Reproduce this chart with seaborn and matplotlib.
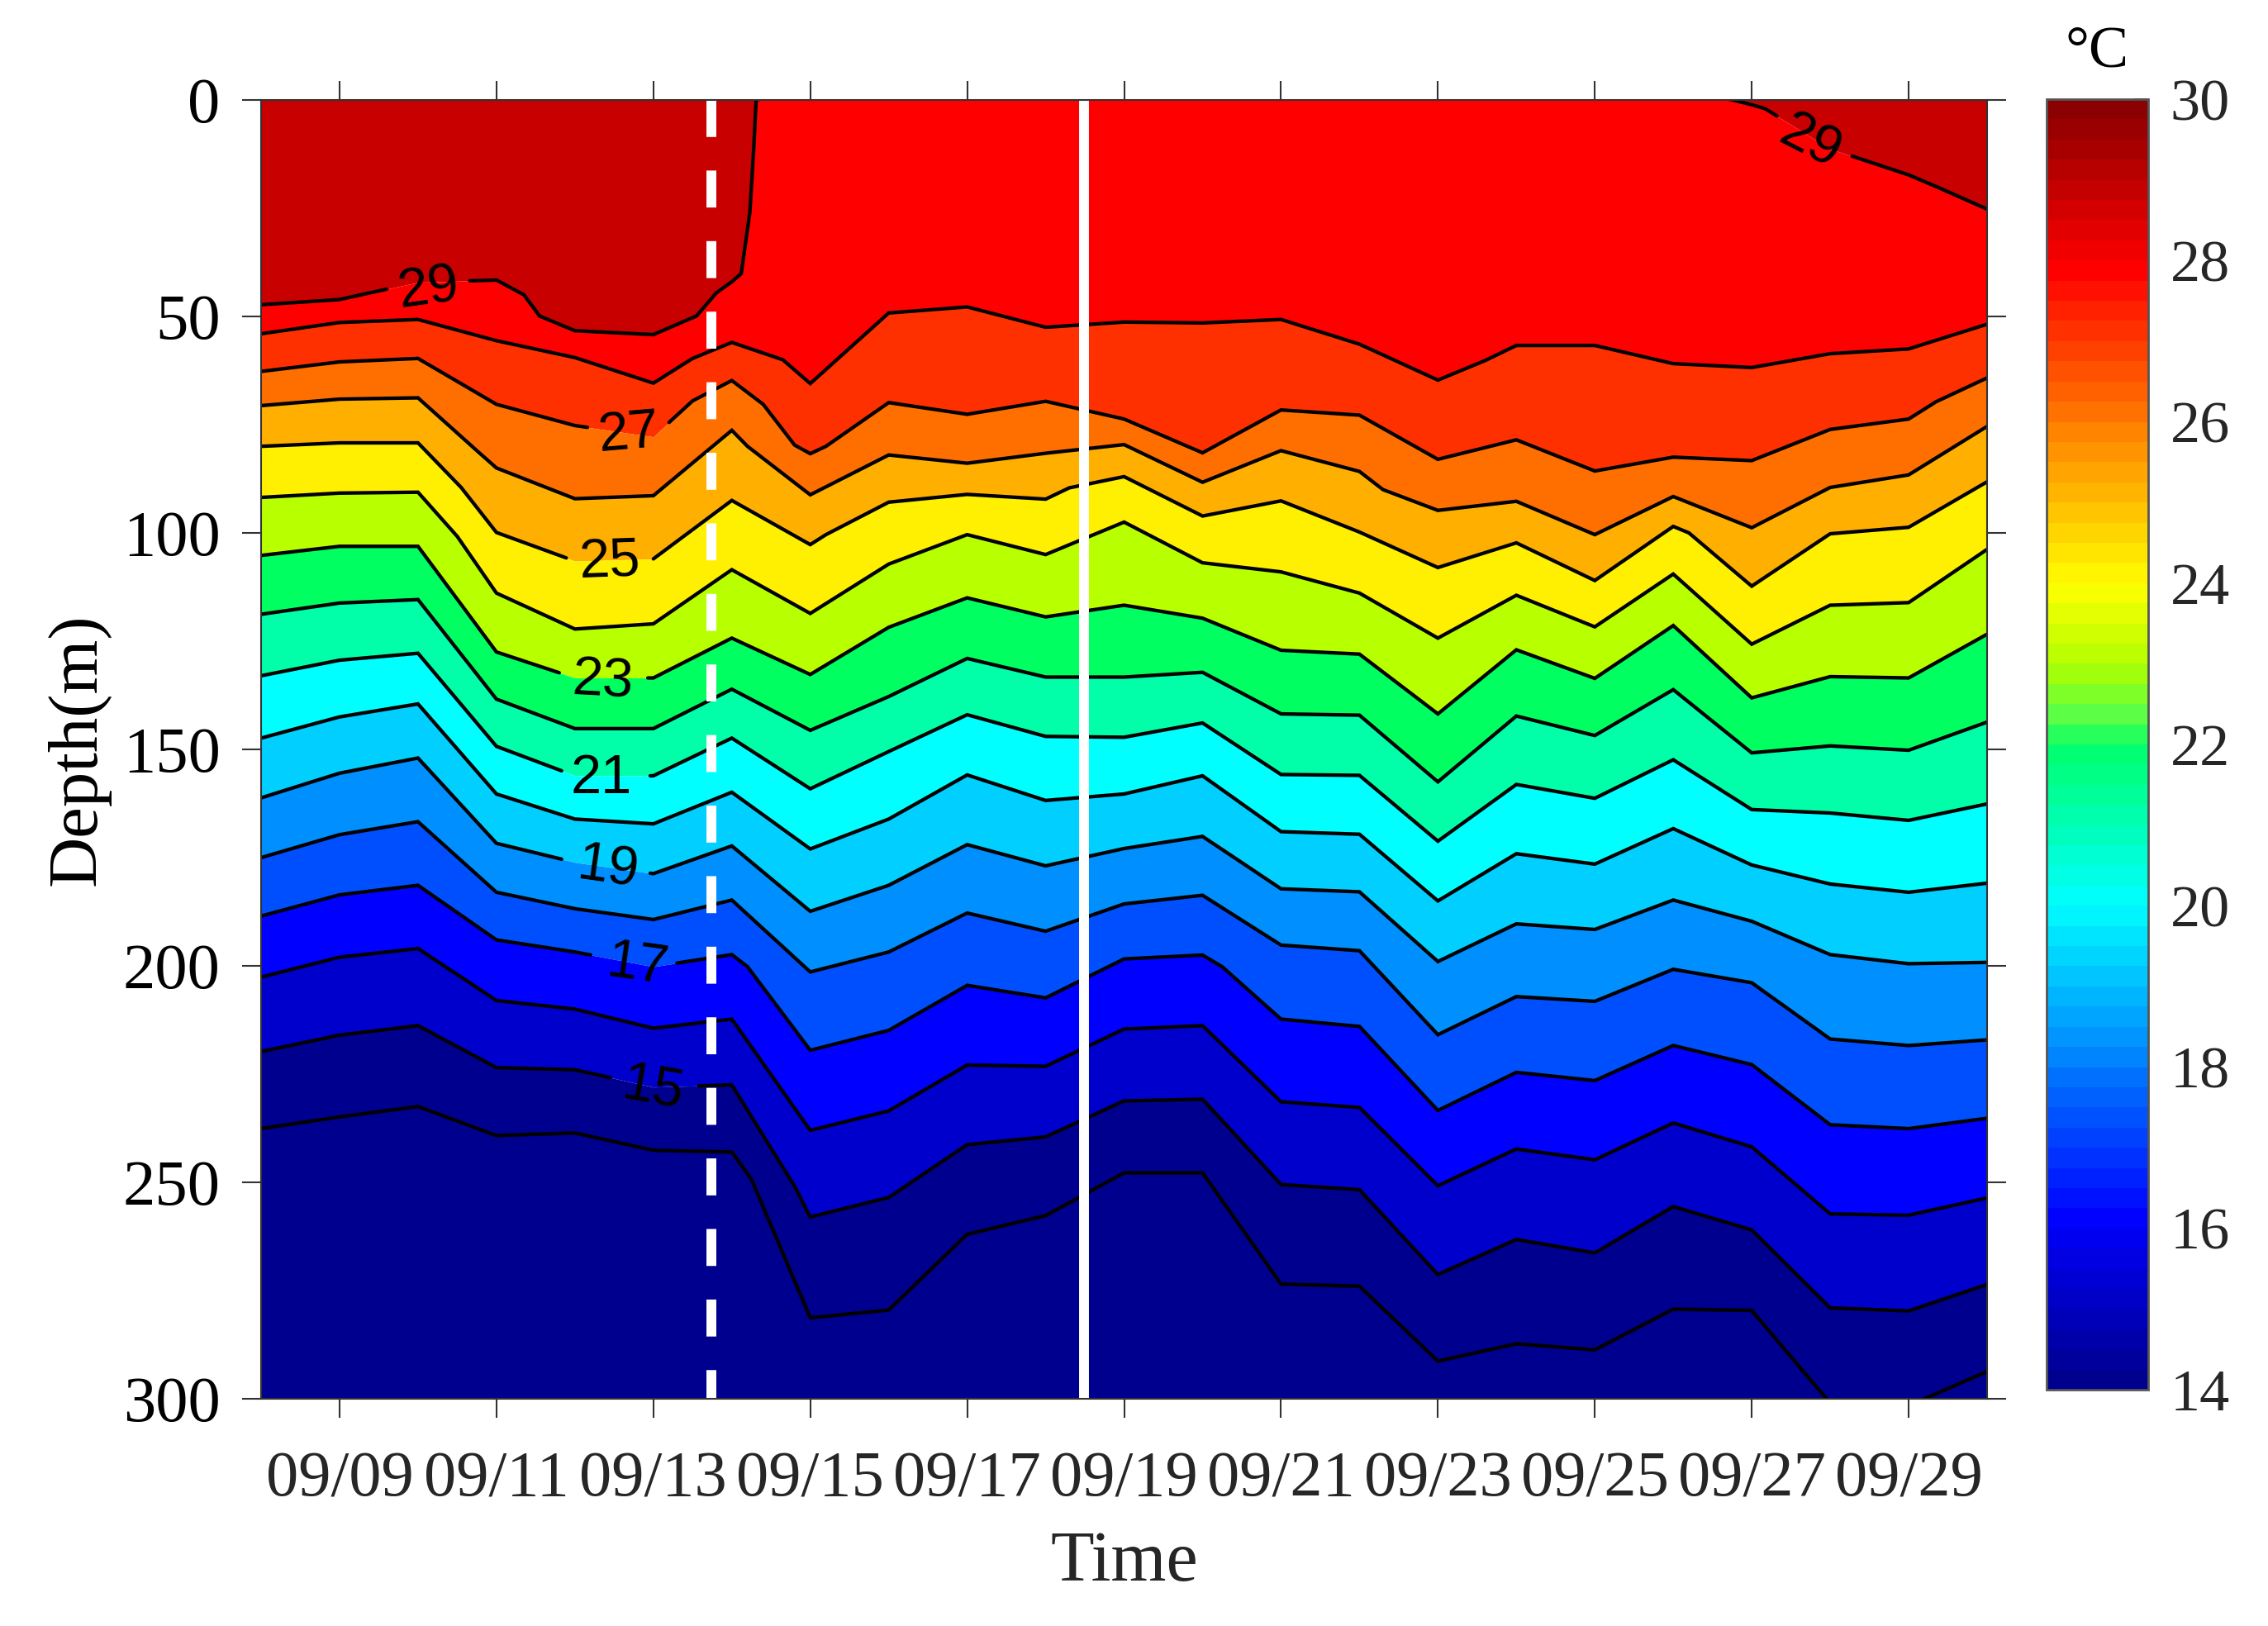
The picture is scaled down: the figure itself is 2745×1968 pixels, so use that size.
import numpy as np
import matplotlib
matplotlib.use('Agg')
import matplotlib.pyplot as plt
import seaborn as sns
from matplotlib.cm import ScalarMappable
from matplotlib.colors import LinearSegmentedColormap, ListedColormap, Normalize

# Depth of each isotherm (m) on each day of September
days = list(range(8, 31))
iso_29 = [47.3, 46.1, 42.1, 41.6, 53.3, 54.2, 42, -3, -3, -3, -3, -3, -3, -3, -3, -3, -3, -3, -3, 1.1, 11.3, 17.3, 25.2]
iso_28 = [54, 51.4, 50.7, 55.6, 59.5, 65.4, 56, 65.5, 49.2, 47.8, 52.5, 51.3, 51.5, 50.7, 56.4, 64.7, 56.7, 56.7, 60.9, 61.8, 58.6, 57.5, 51.8]
iso_27 = [62.7, 60.5, 59.7, 70.3, 75.2, 77.8, 64.8, 81.7, 69.9, 72.6, 69.6, 73.7, 81.5, 71.6, 72.8, 83, 78.5, 85.7, 82.5, 83.3, 76.1, 73.7, 64.2]
iso_26 = [70.6, 69.1, 68.8, 85, 92.1, 91.4, 76.3, 91.2, 82, 83.9, 81.6, 79.6, 88.3, 81, 85.8, 94.8, 92.7, 100.4, 91.6, 98.8, 89.5, 86.6, 75.4]
iso_25 = [80, 79.2, 79.2, 99.9, 106.5, 106, 92.5, 102.7, 92.9, 91.1, 92.2, 87, 96.1, 92.6, 99.8, 108, 102.3, 111, 98.5, 112.3, 100.2, 98.7, 88.2]
iso_24 = [91.8, 90.8, 90.6, 113.9, 122.2, 121, 108.5, 118.6, 107.2, 100.4, 105, 97.5, 106.9, 109, 113.9, 124.3, 114.4, 121.7, 109.5, 125.7, 116.7, 116.1, 103.8]
iso_23 = [105.2, 103.1, 103.1, 127.5, 133.5, 133.5, 124.3, 132.7, 121.8, 115, 119.4, 116.7, 119.7, 127.1, 128, 141.8, 127, 133.6, 121.4, 138.1, 133.2, 133.5, 123.4]
iso_22 = [118.8, 116.2, 115.4, 138.4, 145.2, 145.2, 136.1, 145.6, 137.8, 129, 133.3, 133.3, 132.2, 141.8, 142.1, 157.5, 142.3, 146.8, 136.2, 150.8, 149.2, 150.2, 143.7]
iso_21 = [133, 129.4, 127.8, 149.3, 156.1, 156.1, 147.4, 159.1, 150.5, 142, 147, 147.2, 143.9, 155.8, 156, 171.2, 158.1, 161.3, 152.4, 163.9, 164.7, 166.4, 162.6]
iso_20 = [147.4, 142.5, 139.5, 160.3, 166.1, 167.2, 159.9, 173, 166.1, 155.9, 161.8, 160.3, 156.1, 169, 169.6, 185, 174.1, 176.5, 168.3, 176.7, 181.1, 183, 180.9]
iso_19 = [161.2, 155.5, 152, 171.7, 176.1, 178.7, 172.3, 187.4, 181.4, 172, 176.9, 172.9, 170.1, 182.2, 182.9, 199, 190.3, 191.6, 184.8, 189.7, 197.4, 199.5, 199.2]
iso_18 = [175, 169.7, 166.7, 183, 186.8, 189.3, 184.8, 201.4, 196.8, 187.8, 192, 185.7, 183.7, 195.2, 196.5, 215.9, 207.1, 208.2, 200.8, 203.9, 216.9, 218.4, 217.1]
iso_17 = [188.5, 183.6, 181.4, 194, 196.8, 200.2, 197.4, 219.5, 214.9, 204.5, 207.4, 198.4, 197.5, 212.3, 214, 233.4, 224.6, 226.5, 218.4, 222.8, 236.7, 237.6, 235.2]
iso_16 = [202.6, 198, 196, 208, 210, 214.4, 212.3, 238, 233.5, 222.9, 223.2, 214.6, 213.8, 231.4, 232.7, 250.8, 242.3, 244.8, 236.3, 241.8, 257.3, 257.6, 253.6]
iso_15 = [219.8, 216, 213.8, 223.5, 224, 228, 227.5, 258, 253.5, 241.3, 239.5, 231.2, 230.8, 250.5, 251.7, 271.3, 263.2, 266.3, 255.6, 261, 279, 279.7, 273.6]
iso_14 = [237.6, 234.9, 232.5, 239.2, 238.6, 242.6, 243, 281.3, 279.5, 262, 257.7, 247.8, 247.8, 273.5, 274, 291.3, 287.3, 288.7, 279.3, 279.6, 301, 301.6, 293.7]

levels = [29, 28, 27, 26, 25, 24, 23, 22, 21, 20, 19, 18, 17, 16, 15, 14]
isotherms = [iso_29, iso_28, iso_27, iso_26, iso_25, iso_24, iso_23, iso_22,
             iso_21, iso_20, iso_19, iso_18, iso_17, iso_16, iso_15, iso_14]
band_colors = ['#C80000', '#FF0000', '#FF3000', '#FF6F00', '#FFAF00', '#FFEF00', '#B8FF00', '#00FF60',
               '#00FFA8', '#00FFFF', '#00CFFF', '#008FFF', '#004FFF', '#0000FF', '#0000CC', '#00008F']

# Bends of the contours between two days
extra_kinks = {
    29: [(11.35, 45), (11.55, 49.9), (13.55, 49.9), (13.8, 44.6), (14.12, 40.1),
         (14.23, 26), (14.28, 11), (14.31, 0), (26.76, 0), (27.17, 2), (29.35, 20)],
    28: [(13.5, 59.7), (14.65, 60), (23.6, 60.2)],
    27: [(13.5, 69.5), (14.4, 70.3), (14.8, 79.7), (15.2, 80), (29.35, 69.7)],
    26: [(10.75, 81), (14.2, 80), (22.3, 90)],
    25: [(10.55, 89.5), (15.2, 100.4), (18.3, 89.6), (26.2, 100)],
    24: [(10.5, 100.8)],
    17: [(14.2, 200.2), (20.25, 200.2)],
    15: [(14.8, 250.9)],
    14: [(14.25, 249.3), (18.85, 249.3)],
}

# Contour labels: level, day, depth, rotation, gap in the line
contour_labels = [
    (29, 10.14, 43.8, 8, 9.6, 10.66),
    (27, 12.69, 77.2, 5, 12.16, 13.2),
    (25, 12.45, 107, 2, 11.89, 13.0),
    (23, 12.36, 134.5, -3, 11.8, 12.93),
    (21, 12.34, 156.8, 0, 11.83, 12.96),
    (19, 12.42, 177.7, -8, 11.83, 12.96),
    (17, 12.8, 200, -8, 12.2, 13.3),
    (15, 13.0, 228.5, -10, 12.45, 13.58),
    (29, 27.74, 10, -27, 27.32, 28.28),
]

# Event markers
dashed_day = 13.74
solid_day = 18.49

tick_days = list(range(9, 30, 2))
tick_labels = ['09/%02d' % d for d in tick_days]
depth_ticks = [0, 50, 100, 150, 200, 250, 300]
cbar_ticks = list(range(14, 31, 2))
cmap_stops = [(0, '#00008F'), (0.125, '#0000FF'), (0.375, '#00FFFF'), (0.5, '#00FF66'),
              (0.52, '#50FF50'), (0.5625, '#AEFF00'), (0.625, '#FFFF00'), (0.875, '#FF0000'),
              (1, '#8B0000')]

W, H = 2745, 1968
sns.set_style('ticks')
plt.rcParams['font.family'] = ['Liberation Serif', 'DejaVu Serif']
plt.rcParams['lines.solid_joinstyle'] = 'miter'

cmap = LinearSegmentedColormap.from_list('jet_like', cmap_stops, N=256)
bar_cmap = ListedColormap(cmap(np.linspace(0, 1, 64)))
norm = Normalize(14, 30)

fig = plt.figure(figsize=(W / 100, H / 100), dpi=100)
ax = fig.add_axes([316 / W, 1 - 1693 / H, (2405 - 316) / W, (1693 - 121) / H])
cax = fig.add_axes([2477 / W, 1 - 1682 / H, (2600 - 2477) / W, (1682 - 120) / H])


def full_line(level, values):
    pts = dict(zip(days, values))
    pts.update(extra_kinks.get(level, []))
    xs = sorted(pts)
    return np.array(xs, dtype=float), np.array([pts[k] for k in xs], dtype=float)


lines = {lev: full_line(lev, vals) for lev, vals in zip(levels, isotherms)}
all_x = np.unique(np.concatenate([v[0] for v in lines.values()]))

# Filled bands
upper = np.full_like(all_x, -10.0)
for lev, col in zip(levels, band_colors):
    lower = np.interp(all_x, *lines[lev])
    ax.fill_between(all_x, upper, lower, color=col, lw=0)
    upper = lower
ax.fill_between(all_x, upper, np.full_like(all_x, 310.0), color=band_colors[-1], lw=0)

# Isotherms, broken where a label sits
for lev in levels:
    xs, ys = lines[lev]
    gaps = [(g[4], g[5]) for g in contour_labels if g[0] == lev]
    edges = [(xs[0], xs[-1])]
    if gaps:
        edges = []
        start = xs[0]
        for g0, g1 in sorted(gaps):
            edges.append((start, g0))
            start = g1
        edges.append((start, xs[-1]))
    for x0, x1 in edges:
        inner = xs[(xs > x0) & (xs < x1)]
        px = np.concatenate([[x0], inner, [x1]])
        sns.lineplot(x=px, y=np.interp(px, xs, ys), color='black', lw=3.1, sort=False,
                     estimator=None, legend=False, ax=ax)

for lev, x, y, rot, g0, g1 in contour_labels:
    ax.text(x, y, str(lev), family='Liberation Sans', fontsize=48, color='black', rotation=rot,
            ha='center', va='center', rotation_mode='anchor', zorder=4)

ax.plot([dashed_day, dashed_day], [0, 300], color='white', lw=8.6, ls=(0, (3.75, 3.4)),
        dash_capstyle='butt', zorder=5)
ax.plot([solid_day, solid_day], [0, 300], color='white', lw=8.6, zorder=5)

ax.set_xlim(8, 30)
ax.set_ylim(300, 0)
ax.set_xticks(tick_days)
ax.set_xticklabels(tick_labels)
ax.set_yticks(depth_ticks)
ax.tick_params(axis='x', direction='out', length=16.5, width=1.5, color='#333333', top=True,
               labelsize=56.5, labelcolor='#262626', pad=29)
ax.tick_params(axis='y', direction='out', length=16.5, width=1.5, color='#333333', right=True,
               labelsize=56.5, labelcolor='black', pad=19)
for s in ax.spines.values():
    s.set_visible(True)
    s.set_linewidth(1.5)
    s.set_color('#333333')
    s.set_zorder(6)
ax.set_xlabel('Time', fontsize=62, color='#262626', va='center')
ax.xaxis.set_label_coords(0.5, -0.127)
ax.set_ylabel('Depth(m)', fontsize=61, color='black', va='center')
ax.yaxis.set_label_coords(-0.106, 0.5)

cb = fig.colorbar(ScalarMappable(norm=norm, cmap=bar_cmap), cax=cax)
cb.set_ticks(cbar_ticks)
cb.minorticks_off()
cax.tick_params(direction='in', length=12, width=1.2, color='#222222', right=True,
                labelsize=52, labelcolor='#262626', pad=19)
cb.outline.set_linewidth(2)
cb.outline.set_edgecolor('#555555')
fig.text(2538 / W, 1 - 63 / H, '°C', fontsize=52, color='black', ha='center', va='center')

fig.savefig('out.png', dpi=100)
